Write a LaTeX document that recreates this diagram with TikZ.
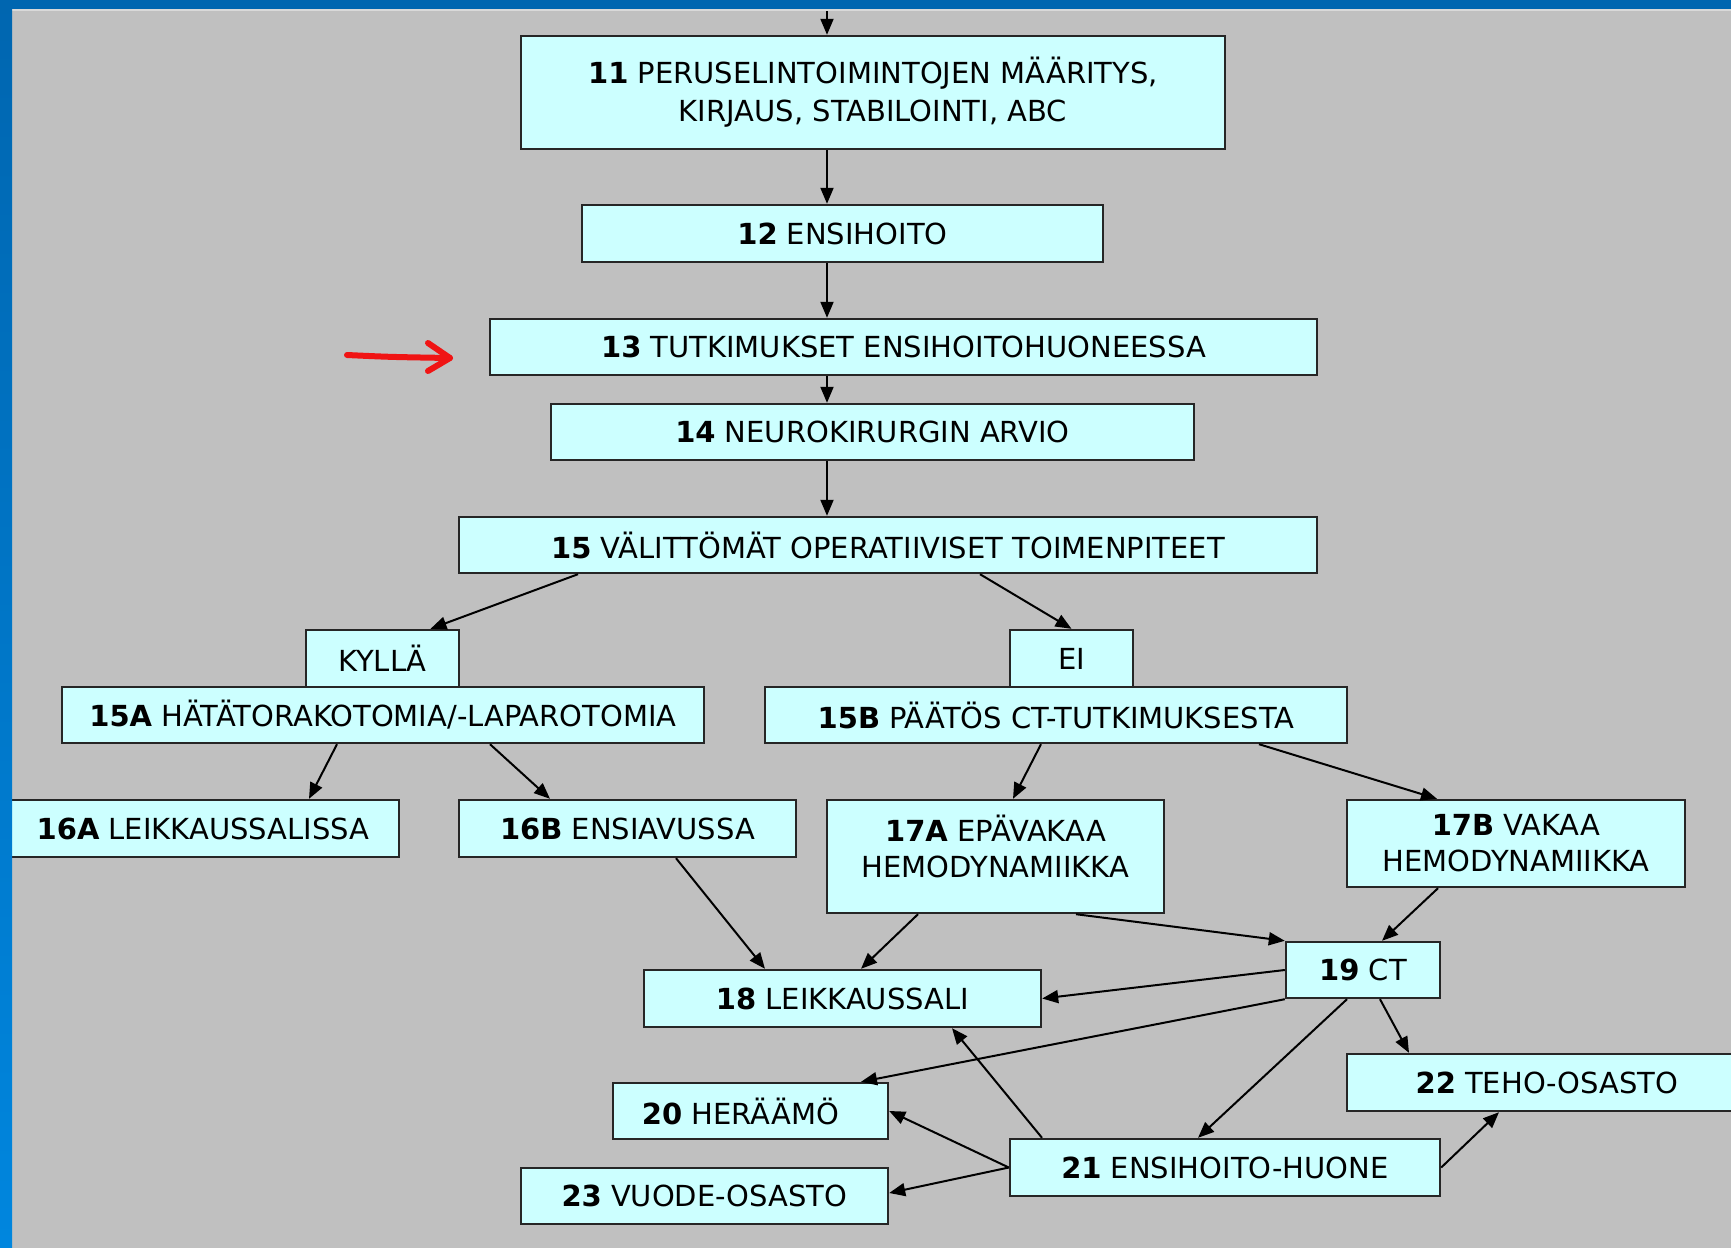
\documentclass[tikz,border=0pt]{standalone}
\usepackage{fontspec}
\setmainfont{DejaVu Sans}
\usetikzlibrary{arrows.meta}
\definecolor{boxfill}{HTML}{CCFFFF}
\definecolor{bggray}{HTML}{C0C0C0}
\definecolor{topblue}{HTML}{0066B0}
\definecolor{lowblue}{HTML}{0086DE}
\definecolor{penred}{HTML}{F01414}
\tikzset{
  blk/.style={draw=black!85, fill=boxfill, line width=1.2pt, inner sep=0pt,
    align=center, font=\fontsize{14.5}{18}\selectfont},
  arr/.style={-{Triangle[length=8pt,width=6.5pt]}, line width=1pt},
  pen/.style={penred, line width=3pt, line cap=round, line join=round}
}
\begin{document}
\begin{tikzpicture}[x=0.5pt,y=-0.5pt]
\useasboundingbox (0,0) rectangle (1731,1248);
\fill[bggray] (0,0) rectangle (1731,1248);
\coordinate (entry) at (827,10);

% main chain
\node[blk, minimum width=352pt, minimum height=56.5pt] (n11) at (873,92.5)
  {\textbf{11} PERUSELINTOIMINTOJEN MÄÄRITYS,\\[1pt] KIRJAUS, STABILOINTI, ABC};
\node[blk, minimum width=260.5pt, minimum height=28.5pt] (n12) at (842.5,233.5) {\textbf{12} ENSIHOITO};
\node[blk, minimum width=413.5pt, minimum height=28pt] (n13) at (903.5,347) {\textbf{13} TUTKIMUKSET ENSIHOITOHUONEESSA};
\node[blk, minimum width=321.5pt, minimum height=28pt] (n14) at (872.5,432) {\textbf{14} NEUROKIRURGIN ARVIO};
\node[blk, minimum width=429pt, minimum height=28pt] (n15) at (888,545) {\textbf{15} VÄLITTÖMÄT OPERATIIVISET TOIMENPITEET};

% yes / no
\node[blk, minimum width=76.5pt, minimum height=28.5pt] (ky) at (382.5,658.5) {KYLLÄ};
\node[blk, minimum width=321pt, minimum height=28pt] (n15a) at (383,715) {\textbf{15A} HÄTÄTORAKOTOMIA/-LAPAROTOMIA};
\node[blk, minimum width=61.5pt, minimum height=28.5pt] (ei) at (1071.5,658.5) {EI};
\node[blk, minimum width=291pt, minimum height=28pt] (n15b) at (1056,715) {\textbf{15B} PÄÄTÖS CT-TUTKIMUKSESTA};

\node[blk, minimum width=196pt, minimum height=28.5pt] (n16a) at (203,828.5) {\textbf{16A} LEIKKAUSSALISSA};
\node[blk, minimum width=168.5pt, minimum height=28.5pt] (n16b) at (627.5,828.5) {\textbf{16B} ENSIAVUSSA};
\node[blk, minimum width=168.5pt, minimum height=56.5pt] (n17a) at (995.5,856.5) {\textbf{17A} EPÄVAKAA\\ HEMODYNAMIIKKA\\[-8pt]};
\node[blk, minimum width=169pt, minimum height=43.5pt] (n17b) at (1516,843.5) {\textbf{17B} VAKAA\\ HEMODYNAMIIKKA};

\node[blk, minimum width=77pt, minimum height=28pt] (n19) at (1363,970) {\textbf{19} CT};
\node[blk, minimum width=198.5pt, minimum height=28.5pt] (n18) at (842.5,998.5) {\textbf{18} LEIKKAUSSALI};
\node[blk, minimum width=200pt, minimum height=28.5pt] (n22) at (1547,1082.5) {\textbf{22} TEHO-OSASTO};
\node[blk, minimum width=137.5pt, minimum height=28pt] (n20) at (750.5,1111) {\textbf{20} HERÄÄMÖ\hspace*{10pt}};
\node[blk, minimum width=215pt, minimum height=28.5pt] (n21) at (1225,1167.5) {\textbf{21} ENSIHOITO-HUONE};
\node[blk, minimum width=183.5pt, minimum height=28pt] (n23) at (704.5,1196) {\textbf{23} VUODE-OSASTO};

% connectors
\draw[arr] (entry) -- (n11.north -| entry);
\foreach \a/\b in {n11/n12,n12/n13,n13/n14,n14/n15}
  \draw[arr] (\a.south -| entry) -- (\b.north -| entry);
\draw[arr] ([xshift=-155pt]n15.south) -- ([xshift=24pt]ky.north);
\draw[arr] ([xshift=46pt]n15.south) -- (ei.north);
\draw[arr] ([xshift=-23pt]n15a.south) -- ([xshift=53pt]n16a.north);
\draw[arr] ([xshift=53.5pt]n15a.south) -- ([xshift=-38.75pt]n16b.north);
\draw[arr] ([xshift=-7.5pt]n15b.south) -- ([xshift=8.75pt]n17a.north);
\draw[arr] ([xshift=101.5pt]n15b.south) -- ([xshift=-39.5pt]n17b.north);
\draw[arr] ([xshift=24.25pt]n16b.south) -- ([xshift=-38.75pt]n18.north);
\draw[arr] ([xshift=-38.75pt]n17a.south) -- ([xshift=9.25pt]n18.north);
\draw[arr] ([xshift=40.25pt]n17a.south) -- (n19.north west);
\draw[arr] ([xshift=-39pt]n17b.south) -- ([xshift=9.5pt]n19.north);
\draw[arr] (n19.west) -- (n18.east);
\draw[arr] (n19.south west) -- ([xshift=55.25pt]n20.north);
\draw[arr] ([xshift=-8pt]n19.south) -- ([xshift=-13.5pt]n21.north);
\draw[arr] ([xshift=8.5pt]n19.south) -- ([xshift=-69pt]n22.north);
\draw[arr] ([xshift=-91.5pt]n21.north) -- ([xshift=54.75pt]n18.south);
\draw[arr] (n21.west) -- (n20.east);
\draw[arr] (n21.west) -- ([yshift=1.5pt]n23.east);
\draw[arr] (n21.east) -- ([xshift=-24pt]n22.south);

% hand-drawn pointer
\draw[pen] (347,355) .. controls (390,357) .. (450,358);
\draw[pen] (428,343) -- (450,358) -- (428,371);

% frame strips
\fill[topblue] (0,0) rectangle (1731,9);
\fill[black!15] (12,9) rectangle (1731,11);
\shade[top color=topblue, bottom color=lowblue] (0,0) rectangle (12,1248);
\end{tikzpicture}
\end{document}
